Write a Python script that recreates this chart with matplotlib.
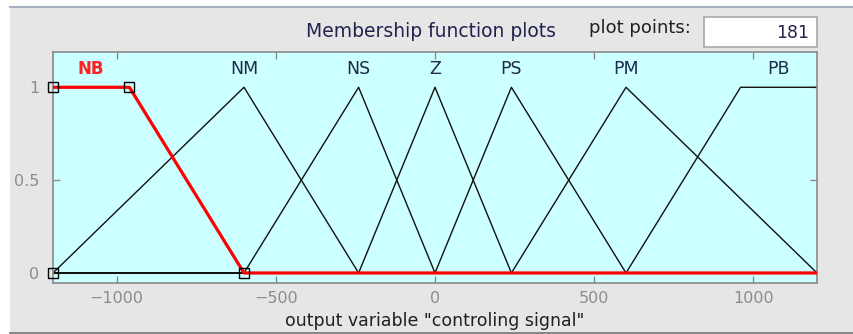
import numpy as np
import matplotlib
matplotlib.use("Agg")
import matplotlib.pyplot as plt
from matplotlib.patches import Rectangle
from matplotlib.lines import Line2D

# ---- data ----
x_range = (-1200, 1200)
n_points = 181
mf_names = ["NB", "NM", "NS", "Z", "PS", "PM", "PB"]
mf_params = [
    [-1200, -1200, -960, -600],   # trapmf
    [-1200, -600, -240],          # trimf
    [-600, -240, 0],
    [-240, 0, 240],
    [0, 240, 600],
    [240, 600, 1200],
    [600, 960, 1200, 1200],       # trapmf
]
selected = "NB"
x_ticks = [-1000, -500, 0, 500, 1000]
y_ticks = [0, 0.5, 1]
y_ticklabels = ["0", "0.5", "1"]
x_label = 'output variable "controling signal"'
panel_title = "Membership function plots"
plot_points_label = "plot points:"
plot_points_value = "181"


def mf_eval(x, p):
    if len(p) == 3:
        a, b, c = p
        p = [a, b, b, c]
    a, b, c, d = p
    y = np.ones_like(x, dtype=float)
    if b > a:
        y = np.where(x < b, (x - a) / (b - a), y)
    else:
        y = np.where(x < a, 0.0, y)
    if d > c:
        y = np.where(x > c, (d - x) / (d - c), y)
    else:
        y = np.where(x > d, 0.0, y)
    return np.clip(y, 0, 1)


W, H = 854, 334
fig = plt.figure(figsize=(W / 100, H / 100), dpi=100)
fig.patch.set_facecolor("white")

# panel background
fig.add_artist(Rectangle((10 / W, 1 - 332 / H), (W - 10) / W, (332 - 8) / H,
                         transform=fig.transFigure, facecolor="#e6e6e6",
                         edgecolor="none", zorder=-10))
fig.add_artist(Line2D([10 / W, 1], [1 - 7 / H, 1 - 7 / H], transform=fig.transFigure,
                      color="#aab0c4", lw=1.5, zorder=-9))
fig.add_artist(Line2D([10 / W, 1], [1 - 332.5 / H, 1 - 332.5 / H], transform=fig.transFigure,
                      color="#707070", lw=1.2, zorder=-9))

ax = fig.add_axes([53 / W, 1 - 283 / H, (817 - 53) / W, (283 - 52) / H])
ax.set_facecolor("#ccffff")

x = np.linspace(x_range[0], x_range[1], n_points)
for name, p in zip(mf_names, mf_params):
    if name == selected:
        continue
    ax.plot(x, mf_eval(x, p), color="#111111", lw=1.0, zorder=2)

for name, p in zip(mf_names, mf_params):
    pk = p if len(p) == 4 else [p[0], p[1], p[1], p[2]]
    cx = (pk[1] + pk[2]) / 2
    if name == selected:
        ax.plot(x, mf_eval(x, p), color="#ff0000", lw=2.3, zorder=4)
        ax.plot([pk[0], pk[1], pk[2], pk[3]], [0, 1, 1, 0], ls="none", marker="s",
                ms=6.5, mfc="none", mec="black", mew=1.0, zorder=5, clip_on=False)
        ax.text(cx, 1.10, name, color="#ff2020", fontsize=12, fontweight="bold",
                ha="center", va="center", family="DejaVu Sans")
    else:
        ax.text(cx, 1.10, name, color="#1e2a4a", fontsize=12.5,
                ha="center", va="center", family="DejaVu Sans")

ax.set_xlim(*x_range)
ax.set_ylim(-0.054, 1.19)
ax.set_xticks(x_ticks)
ax.set_xticklabels([f"\u2212{abs(v)}" if v < 0 else str(v) for v in x_ticks])
ax.set_yticks(y_ticks)
ax.set_yticklabels(y_ticklabels)
ax.tick_params(direction="in", length=5, width=1, color="#8a8a8a",
               top=True, right=True, labelsize=11.5, labelcolor="#8c8c8c")
ax.tick_params(axis="x", pad=6)
ax.tick_params(axis="y", pad=10)
for s in ax.spines.values():
    s.set_color("#8a8a8a")
    s.set_linewidth(1.2)
ax.set_xlabel(x_label, fontsize=12.5, color="#202020", labelpad=4)

# top controls
fig.text(431.5 / W, 1 - 31.5 / H, panel_title, ha="center", va="center",
         fontsize=13.5, color="#23234f")
fig.text(691 / W, 1 - 28 / H, plot_points_label, ha="right", va="center",
         fontsize=13, color="#202020")
fig.add_artist(Rectangle((704 / W, 1 - 47 / H), 113 / W, 30 / H,
                         transform=fig.transFigure, facecolor="white",
                         edgecolor="#a8a8a8", lw=1.2))
fig.text(809 / W, 1 - 32.5 / H, plot_points_value, ha="right", va="center",
         fontsize=12.5, color="#2a1f4f")

fig.savefig("out.png", dpi=100)
